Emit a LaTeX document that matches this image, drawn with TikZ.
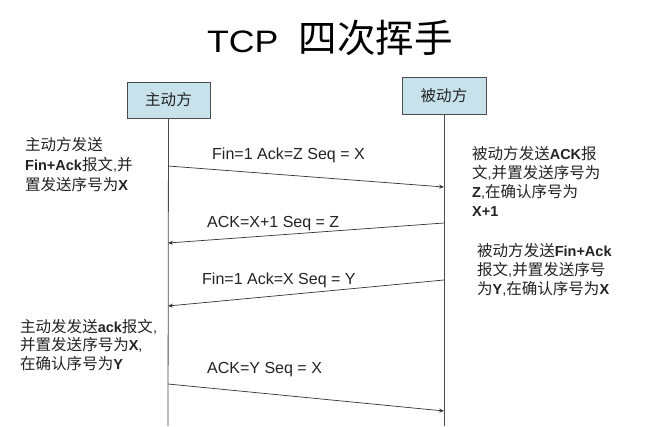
\documentclass[tikz,border=0pt]{standalone}
\usepackage{fontspec}
\setmainfont{Liberation Sans}
\newfontfamily\cjk[Scale=1.07]{Noto Sans CJK SC}
\newfontfamily\titlefont[FakeStretch=1.15]{Liberation Sans}
\usetikzlibrary{arrows.meta}
\newcommand\zh[1]{{\cjk #1}}
\definecolor{boxfill}{RGB}{200,226,236}
\definecolor{ink}{RGB}{35,35,35}
\tikzset{
  party/.style={draw=black!70, fill=boxfill, line width=0.8pt, inner sep=0pt,
    minimum width=83pt, minimum height=36pt, font=\fontsize{14.5}{17}\selectfont, text=ink},
  life/.style={draw=black!70, line width=0.8pt},
  msg/.style={draw=black!80, line width=0.7pt, -{Stealth[length=5pt,width=4pt]}},
  msglabel/.style={anchor=base west, inner sep=0pt, text=ink, font=\fontsize{16}{19}\selectfont},
  note/.style={anchor=base west, inner sep=0pt, align=left, text=ink, font=\fontsize{14.5}{19}\selectfont},
}
\begin{document}
\begin{tikzpicture}[x=1pt,y=-1pt]
\useasboundingbox[fill=white] (0,0) rectangle (648,426);
% title
\node[anchor=base west, inner sep=0pt, text=black] (title) at (207,52)
  {\titlefont\fontsize{31}{36}\selectfont TCP\hspace{20pt}{\cjk\fontsize{36}{40}\selectfont 四次挥手}};
% parties
\node[party] (A) at (168.5,100) {\zh{主动方}};
\node[party, minimum width=84pt, minimum height=37pt] (B) at (444,95.5) {\zh{被动方}};
\coordinate (Aend) at (168,426);
\coordinate (Bend) at (444,426);
\draw[life] (A.south) -- (Aend);
\draw[life] (B.south) -- (Bend);
% message end points
\coordinate (a1) at (168,166); \coordinate (b1) at (444,187);
\coordinate (b2) at (444,223); \coordinate (a2) at (168,243);
\coordinate (b3) at (444,280); \coordinate (a3) at (168,306);
\coordinate (a4) at (168,384); \coordinate (b4) at (444,411);
\draw[msg] (a1) -- (b1);
\draw[msg] (b2) -- (a2);
\draw[msg] (b3) -- (a3);
\draw[msg] (a4) -- (b4);
% message labels
\node[msglabel] (m1) at (212,159) {Fin=1 Ack=Z Seq = X};
\node[msglabel] (m2) at (207,227) {ACK=X+1 Seq = Z};
\node[msglabel] (m3) at (202,284) {Fin=1 Ack=X Seq = Y};
\node[msglabel] (m4) at (207,373) {ACK=Y Seq = X};
% notes (base anchor = baseline of last line)
\node[note, font=\fontsize{14.5}{20}\selectfont] (n1) at (25,190)
  {\zh{主动方发送}\\\textbf{Fin+Ack}\zh{报文},\zh{并}\\\zh{置发送序号为}\textbf{X}};
\node[note] (n2) at (472,216)
  {\zh{被动方发送}\textbf{ACK}\zh{报}\\\zh{文},\zh{并置发送序号为}\\\textbf{Z},\zh{在确认序号为}\\\textbf{X+1}};
\node[note] (n3) at (477,294)
  {\zh{被动方发送}\textbf{Fin+Ack}\\\zh{报文},\zh{并置发送序号}\\\zh{为}\textbf{Y},\zh{在确认序号为}\textbf{X}};
\node[note, font=\fontsize{14.5}{18.5}\selectfont] (n4) at (20,369)
  {\zh{主动发发送}\textbf{ack}\zh{报文},\\\zh{并置发送序号为}\textbf{X},\\\zh{在确认序号为}\textbf{Y}};
\end{tikzpicture}
\end{document}
